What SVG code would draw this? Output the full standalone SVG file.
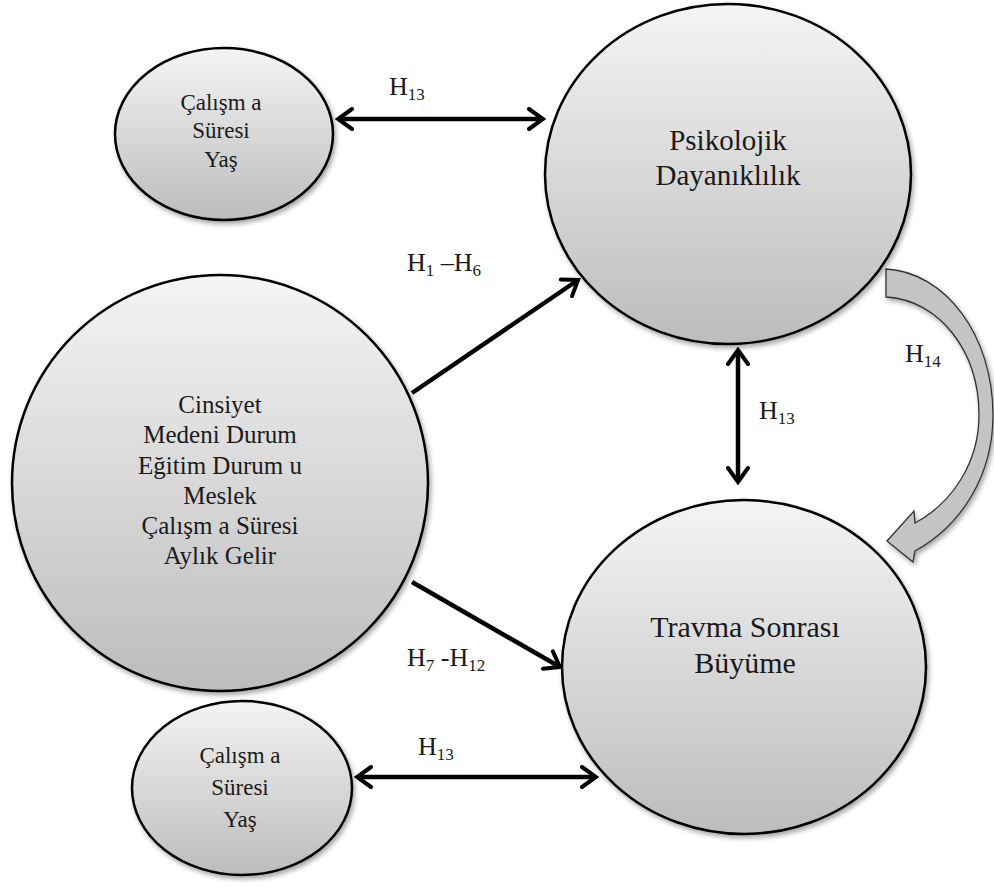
<svg xmlns="http://www.w3.org/2000/svg" width="994" height="889" viewBox="0 0 994 889">
<defs>
<linearGradient id="g" x1="0" y1="0" x2="0" y2="1">
<stop offset="0" stop-color="#f4f4f4"/>
<stop offset="1" stop-color="#bcbcbc"/>
</linearGradient>
<filter id="sh" x="-10%" y="-10%" width="125%" height="125%">
<feGaussianBlur in="SourceAlpha" stdDeviation="2.5"/>
<feOffset dx="2" dy="3" result="b"/>
<feComponentTransfer><feFuncA type="linear" slope="0.35"/></feComponentTransfer>
<feMerge><feMergeNode/><feMergeNode in="SourceGraphic"/></feMerge>
</filter>
<marker id="ah" markerUnits="userSpaceOnUse" viewBox="0 0 20 24" refX="17" refY="12" markerWidth="20" markerHeight="24" orient="auto-start-reverse">
<path d="M3,2 L17,12 L3,22" fill="none" stroke="#000" stroke-width="4" stroke-linecap="round" stroke-linejoin="miter"/>
</marker>
</defs>
<style>
.node{fill:url(#g);stroke:#000;stroke-width:2.5;filter:url(#sh)}
text{font-family:"Liberation Serif",Tinos,"Noto Serif","DejaVu Serif",FreeSerif,"Times New Roman",Times,serif;fill:#1a1a1a}
.t{text-anchor:middle}
.s{font-size:23px}
.m{font-size:25px}
.l{font-size:29px}
.l2{font-size:30px}
.lab{font-size:26px}
.sub{font-size:17px}
.c{fill:none;stroke:#000;stroke-width:4.5;marker-end:url(#ah)}
.cb{fill:none;stroke:#000;stroke-width:4.5;marker-end:url(#ah);marker-start:url(#ah)}
</style>
<rect width="994" height="889" fill="#fff"/>

<g id="connectors">
<line class="cb" x1="338" y1="119" x2="543" y2="119"/>
<line class="c" x1="412" y1="393" x2="578" y2="280"/>
<line class="c" x1="412" y1="582" x2="560" y2="667"/>
<line class="cb" x1="738" y1="350" x2="738" y2="482"/>
<line class="cb" x1="357" y1="777" x2="596" y2="777"/>
<path id="h14arrow" d="M886,269 C945,272 993,335 993,415 C993,475 962,525 915,551 L913,562 L887,541 L914,511 L915,523 C952,503 979,463 979,415 C979,352 940,300 886,297 Z" fill="#c4c4c4" stroke="#333" stroke-width="1.3" filter="url(#sh)"/>
</g>

<g id="n_top_small">
<ellipse class="node" cx="224" cy="134" rx="109" ry="86"/>
<text class="t s" x="221" y="110">Çalışm a</text>
<text class="t s" x="221" y="138">Süresi</text>
<text class="t s" x="221" y="167">Yaş</text>
</g>

<g id="n_psiko">
<ellipse class="node" cx="728" cy="174" rx="183" ry="170"/>
<text class="t l" x="728" y="150">Psikolojik</text>
<text class="t l" x="728" y="185">Dayanıklılık</text>
</g>

<g id="n_demo">
<ellipse class="node" cx="220" cy="483" rx="208" ry="208"/>
<text class="t m" x="220" y="413">Cinsiyet</text>
<text class="t m" x="220" y="443">Medeni Durum</text>
<text class="t m" x="220" y="474">Eğitim  Durum u</text>
<text class="t m" x="220" y="504">Meslek</text>
<text class="t m" x="220" y="534">Çalışm a Süresi</text>
<text class="t m" x="220" y="564">Aylık Gelir</text>
</g>

<g id="n_travma">
<ellipse class="node" cx="744" cy="667" rx="182" ry="167"/>
<text class="t l2" x="745" y="637">Travma Sonrası</text>
<text class="t l2" x="745" y="673">Büyüme</text>
</g>

<g id="n_bottom_small">
<ellipse class="node" cx="242" cy="788" rx="110" ry="87"/>
<text class="t s" x="240" y="763">Çalışm a</text>
<text class="t s" x="240" y="795">Süresi</text>
<text class="t s" x="240" y="827">Yaş</text>
</g>

<g id="labels">
<text class="lab" x="389" y="95">H<tspan class="sub" dy="5">13</tspan></text>
<text class="lab" x="407" y="271">H<tspan class="sub" dy="5">1</tspan><tspan dy="-5"> –H</tspan><tspan class="sub" dy="5">6</tspan></text>
<text class="lab" x="407" y="666">H<tspan class="sub" dy="5">7</tspan><tspan dy="-5"> -H</tspan><tspan class="sub" dy="5">12</tspan></text>
<text class="lab" x="759" y="419">H<tspan class="sub" dy="5">13</tspan></text>
<text class="lab" x="418" y="755">H<tspan class="sub" dy="5">13</tspan></text>
<text class="lab" x="905" y="362">H<tspan class="sub" dy="5">14</tspan></text>
</g>
</svg>
